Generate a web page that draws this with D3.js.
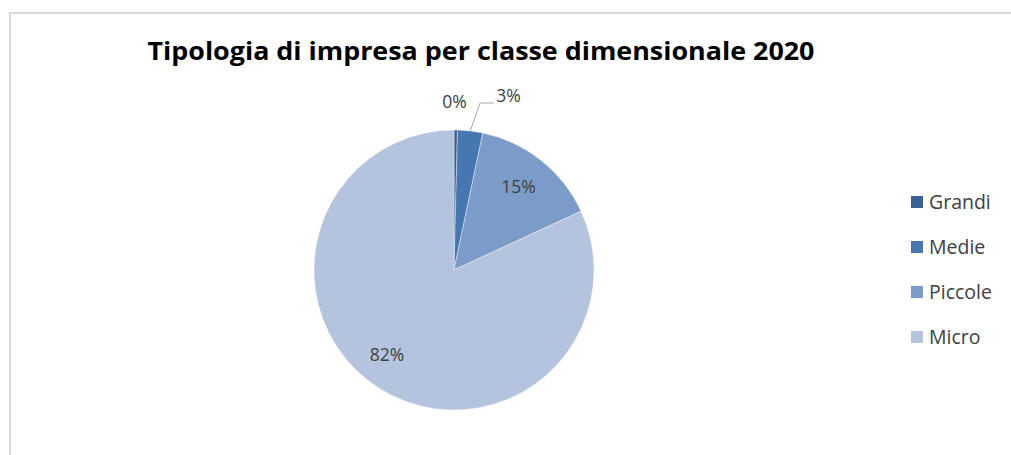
<!DOCTYPE html>
<html>
<head>
<meta charset="utf-8">
<script src="https://cdn.jsdelivr.net/npm/d3@7"></script>
<style>
  html, body { margin: 0; padding: 0; background: #fff; }
  svg { display: block; }
  text { font-family: "Open Sans", "Liberation Sans", sans-serif; }
</style>
</head>
<body>
<svg id="chart" width="1011" height="455"></svg>
<script>
const title = "Tipologia di impresa per classe dimensionale 2020";
const categories = ["Grandi", "Medie", "Piccole", "Micro"];
const values = [0.4, 2.9, 14.8, 81.9];
const labels = ["0%", "3%", "15%", "82%"];
const colors = ["#3b6196", "#4677b1", "#7b9cc9", "#b4c3de"];

const svg = d3.select("#chart");

// frame
svg.append("path")
  .attr("d", "M10,455 L10,13 L1011,13")
  .attr("fill", "none").attr("stroke", "#d9d9d9").attr("stroke-width", 2);

// title
svg.append("text")
  .attr("x", 481).attr("y", 60)
  .attr("text-anchor", "middle")
  .attr("font-size", 25).attr("font-weight", "bold")
  .attr("fill", "#000")
  .attr("textLength", 667).attr("lengthAdjust", "spacingAndGlyphs")
  .text(title);

const cx = 454, cy = 270, R = 140;
const color = d3.scaleOrdinal().domain(categories).range(colors);
const data = categories.map((c, i) => ({ cat: c, value: values[i], label: labels[i] }));
const pie = d3.pie().value(d => d.value).sort(null);
const arcs = pie(data);
const arc = d3.arc().innerRadius(0).outerRadius(R);

const g = svg.append("g").attr("transform", `translate(${cx},${cy})`);
g.selectAll("path.slice").data(arcs).enter().append("path")
  .attr("class", "slice")
  .attr("d", arc)
  .attr("fill", d => color(d.data.cat))
  .attr("stroke", "#ffffff").attr("stroke-width", 0.4);

// label positions (relative to center)
const labelPos = {
  "Grandi": [454.5 - cx, 102 - cy],
  "Medie": [508.5 - cx, 96 - cy],
  "Piccole": [518.5 - cx, 187 - cy],
  "Micro": [387 - cx, 355 - cy]
};
g.selectAll("text.lbl").data(arcs).enter().append("text")
  .attr("class", "lbl")
  .attr("x", d => labelPos[d.data.cat][0])
  .attr("y", d => labelPos[d.data.cat][1])
  .attr("dy", "0.35em")
  .attr("text-anchor", "middle")
  .attr("font-size", 17.5)
  .attr("fill", "#404040")
  .text(d => d.data.label);

// leader line for Medie
const med = arcs[1];
const midA = (med.startAngle + med.endAngle) / 2;
const px = Math.sin(midA) * R, py = -Math.cos(midA) * R;
g.append("polyline")
  .attr("points", `${px},${py} ${480 - cx},${103 - cy} ${494 - cx},${103 - cy}`)
  .attr("fill", "none").attr("stroke", "#a6a6a6").attr("stroke-width", 1);

// legend
const lg = svg.append("g").attr("transform", "translate(911,202)");
const rows = lg.selectAll("g").data(categories).enter().append("g")
  .attr("transform", (d, i) => `translate(0,${i * 45})`);
rows.append("rect").attr("x", 0).attr("y", -6).attr("width", 12).attr("height", 12)
  .attr("fill", d => color(d));
rows.append("text").attr("x", 18).attr("y", 0).attr("dy", "0.35em")
  .attr("font-size", 19.5).attr("fill", "#404040").text(d => d);
</script>
</body>
</html>
